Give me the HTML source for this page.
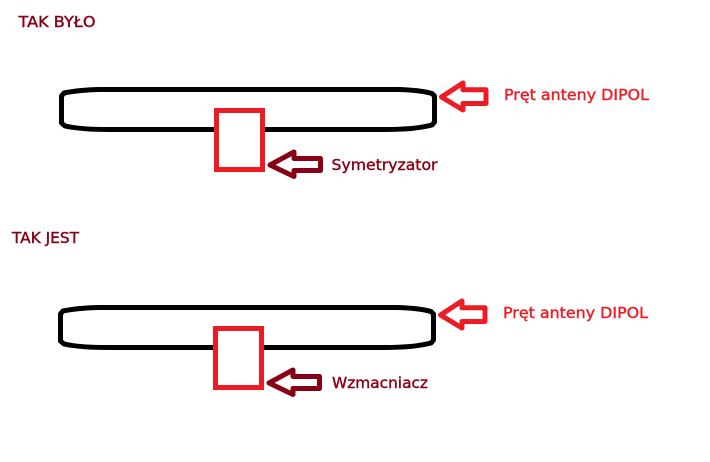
<!DOCTYPE html>
<html>
<head>
<meta charset="utf-8">
<style>
html,body{margin:0;padding:0;background:#fff;}
svg{display:block;}
text{font-family:"DejaVu Sans","Liberation Sans",sans-serif;font-size:15px;stroke-width:0.4px;}
</style>
</head>
<body>
<svg width="710" height="462" viewBox="0 0 710 462" xmlns="http://www.w3.org/2000/svg">
<rect width="710" height="462" fill="#fff"/>

<!-- Top -->
<text x="18.5" y="27" fill="#880015" stroke="#880015" textLength="77" lengthAdjust="spacingAndGlyphs">TAK BYŁO</text>
<path d="M100 89.500 H397 Q420 90 432 93.500 L434.500 96 V122 L432 125 Q415 129.500 385 129.500 H110 Q80 129.500 65 126 L61.500 123 V96 L64 93 Q78 90 100 89.500 Z" fill="none" stroke="#000" stroke-width="5" stroke-linejoin="round"/>
<rect x="216.500" y="110.500" width="46" height="59" fill="#fff" stroke="#ed1c24" stroke-width="5"/>
<path d="M441.500 97 L463 83 V89.800 H486 V103.500 H463 V110 Z" fill="none" stroke="#ed1c24" stroke-width="5" stroke-linejoin="round"/>
<path d="M270 165 L294 152 V158.500 H320.500 V170.500 H294 V176.500 Z" fill="none" stroke="#880015" stroke-width="5" stroke-linejoin="round"/>
<text x="504" y="100" fill="#ed1c24" stroke="#ed1c24" textLength="145" lengthAdjust="spacingAndGlyphs">Pręt anteny DIPOL</text>
<text x="331.500" y="170" fill="#880015" stroke="#880015" textLength="106" lengthAdjust="spacingAndGlyphs">Symetryzator</text>

<!-- Bottom -->
<text x="12" y="243" fill="#880015" stroke="#880015" textLength="67" lengthAdjust="spacingAndGlyphs">TAK JEST</text>
<path d="M99 307.500 H396 Q419 308 431 311.500 L433.500 314 V340 L431 343 Q414 347.500 384 347.500 H109 Q79 347.500 64 344 L60.500 341 V314 L63 311 Q77 308 99 307.500 Z" fill="none" stroke="#000" stroke-width="5" stroke-linejoin="round"/>
<rect x="215.500" y="328.500" width="46" height="59" fill="#fff" stroke="#ed1c24" stroke-width="5"/>
<path d="M440.500 315 L462 301 V307.800 H485 V321.500 H462 V328 Z" fill="none" stroke="#ed1c24" stroke-width="5" stroke-linejoin="round"/>
<path d="M269 383 L293 370 V376.500 H319.500 V388.500 H293 V394.500 Z" fill="none" stroke="#880015" stroke-width="5" stroke-linejoin="round"/>
<text x="503" y="318" fill="#ed1c24" stroke="#ed1c24" textLength="145" lengthAdjust="spacingAndGlyphs">Pręt anteny DIPOL</text>
<text x="332" y="388" fill="#880015" stroke="#880015" textLength="96" lengthAdjust="spacingAndGlyphs">Wzmacniacz</text>
</svg>
</body>
</html>
